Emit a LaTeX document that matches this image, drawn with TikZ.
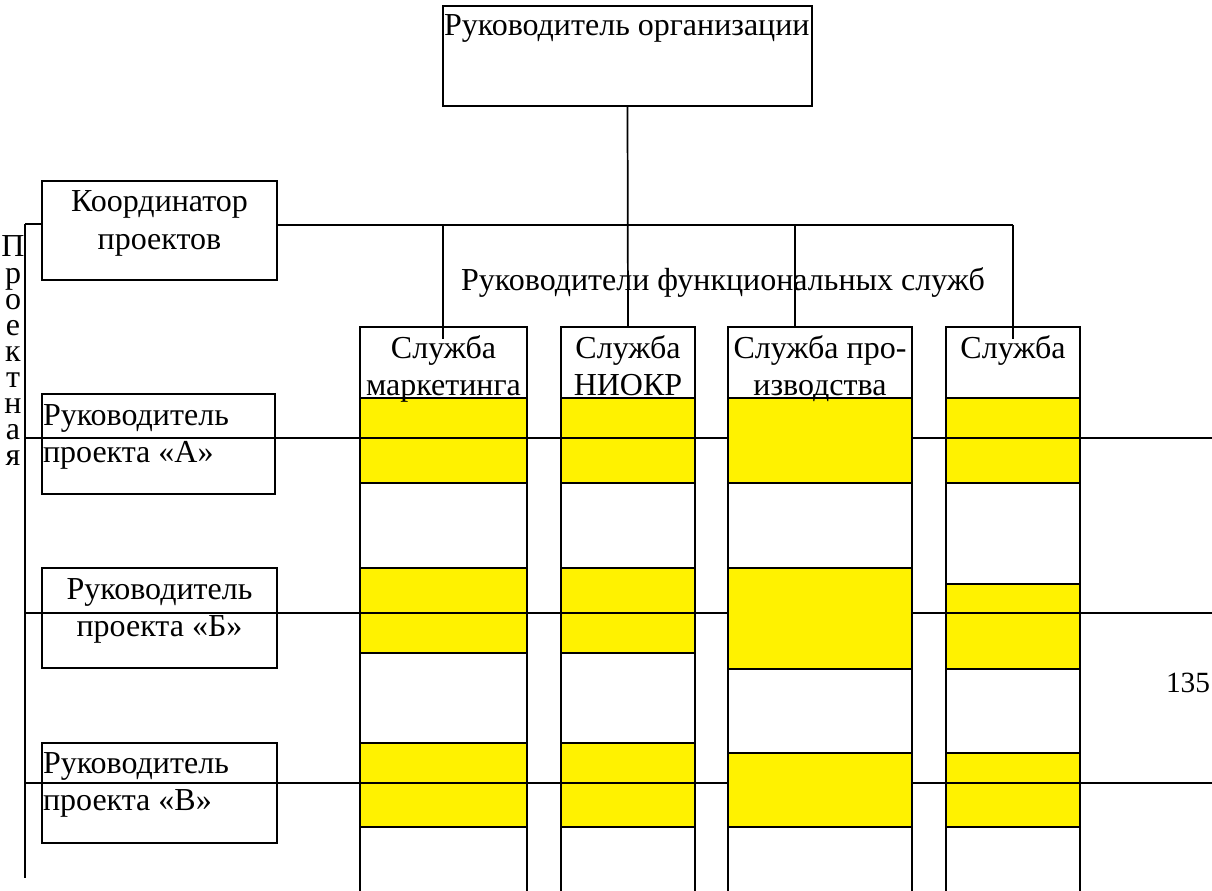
\documentclass[tikz,border=0pt]{standalone}
\usepackage{fontspec}
\setmainfont{Liberation Serif}
\begin{document}
\begin{tikzpicture}[x=0.75pt,y=-0.75pt,
  line width=1.3pt,
  box/.style={draw=black, fill=white, rectangle, inner sep=0pt, outer sep=0pt},
  ycell/.style={box, fill=yellow},
  lbl/.style={inner sep=0pt, outer sep=0pt, font=\fontsize{24}{28}\selectfont},
  hdr/.style={lbl, font=\fontsize{24}{28}\selectfont},
  pgnum/.style={lbl, font=\fontsize{22}{26}\selectfont},
  link/.style={draw=black, line width=1.3pt}
]
% canvas
\useasboundingbox (0,0) rectangle (1212,891);
\clip (0,0) rectangle (1212,891);

% rectangle node from pixel corners
\newcommand\pxbox[6]{%
  \node[#1, minimum width={(#5-#3)*0.75pt}, minimum height={(#6-#4)*0.75pt}]
    (#2) at ({(#3+#5)/2},{(#4+#6)/2}) {};}

% ---- top of the hierarchy
\pxbox{box}{org}{443}{6}{812}{106}
\node[hdr, anchor=base west] (orgT) at (444,36) {Руководитель организации};

% ---- project side
\pxbox{box}{coord}{42}{181}{277}{280}
\node[lbl, anchor=base] (coordT1) at (159.5,212) {Координатор};
\node[lbl, anchor=base] (coordT2) at (159.5,249) {проектов};

\pxbox{box}{pa}{42}{394}{275}{494}
\node[lbl, anchor=base west] (paT1) at (43,425) {Руководитель};
\node[lbl, anchor=base west] (paT2) at (43,462) {проекта «А»};

\pxbox{box}{pb}{42}{568}{277}{668}
\node[lbl, anchor=base] (pbT1) at (159.5,599) {Руководитель};
\node[lbl, anchor=base] (pbT2) at (159.5,636) {проекта «Б»};

\pxbox{box}{pv}{42}{743}{277}{843}
\node[lbl, anchor=base west] (pvT1) at (43,773) {Руководитель};
\node[lbl, anchor=base west] (pvT2) at (43,810) {проекта «В»};

% vertical caption
\foreach \ch [count=\i from 0] in {П,р,о,е,к,т,н,а,я}
  \node[lbl, anchor=base] (cap\i) at (13,{257+26.1*\i}) {\ch};

% ---- functional columns: header, then yellow / white cells
% #1 name, #2 left, #3 right, #4..#7 cell boundaries
\newcommand\column[7]{%
  \pxbox{box}{#1h}{#2}{327}{#3}{398}
  \pxbox{ycell}{#1a}{#2}{398}{#3}{483}
  \pxbox{box}{#1w1}{#2}{483}{#3}{#4}
  \pxbox{ycell}{#1b}{#2}{#4}{#3}{#5}
  \pxbox{box}{#1w2}{#2}{#5}{#3}{#6}
  \pxbox{ycell}{#1v}{#2}{#6}{#3}{#7}
  \pxbox{box}{#1w3}{#2}{#7}{#3}{900}
}
\column{m}{360}{527}{568}{653}{743}{827}
\column{n}{561}{695}{568}{653}{743}{827}
\column{p}{728}{912}{568}{669}{753}{827}
\column{s}{946}{1080}{584}{669}{753}{827}

\node[lbl, anchor=base] (mT1) at (443.5,358) {Служба};
\node[lbl, anchor=base] (mT2) at (443.5,395) {маркетинга};
\node[lbl, anchor=base] (nT1) at (628,358) {Служба};
\node[lbl, anchor=base] (nT2) at (628,395) {НИОКР};
\node[lbl, anchor=base] (pT1) at (820,358) {Служба про-};
\node[lbl, anchor=base] (pT2) at (820,395) {изводства};
\node[lbl, anchor=base] (sT1) at (1013,358) {Служба};

\node[lbl, anchor=base] (fnT) at (723,290) {Руководители функциональных служб};

% ---- connectors
\coordinate (busR) at (1013,225);
\coordinate (dropM) at (443,339);
\coordinate (dropS) at (1013,339);
\coordinate (tapM) at (443,225);
\coordinate (tapP) at (795,225);
\coordinate (topP) at (795,327);
\draw[link] (org.south) -- (nh.north);
\draw[link] (coord.east |- busR) -- (busR);
\draw[link] (tapM) -- (dropM);
\draw[link] (tapP) -- (topP);
\draw[link] (busR) -- (dropS);

% left spine
\coordinate (spineTop) at (25,224);
\coordinate (spineBot) at (25,878);
\draw[link] (spineTop) -- (spineBot);
\draw[link] (spineTop) -- (coord.west |- spineTop);

% project lines across the columns
\coordinate (ea) at (1212,438);
\coordinate (eb) at (1212,613);
\coordinate (ev) at (1212,783);
\draw[link] (spineTop |- ea) -- (pa.west |- ea);
\draw[link] (spineTop |- eb) -- (pb.west |- eb);
\draw[link] (spineTop |- ev) -- (pv.west |- ev);
\draw[link] (pa.east |- ea) -- (ea);
\draw[link] (pb.east |- eb) -- (eb);
\draw[link] (pv.east |- ev) -- (ev);

\node[pgnum, anchor=base] (pg) at (1188,692) {135};
\end{tikzpicture}
\end{document}
